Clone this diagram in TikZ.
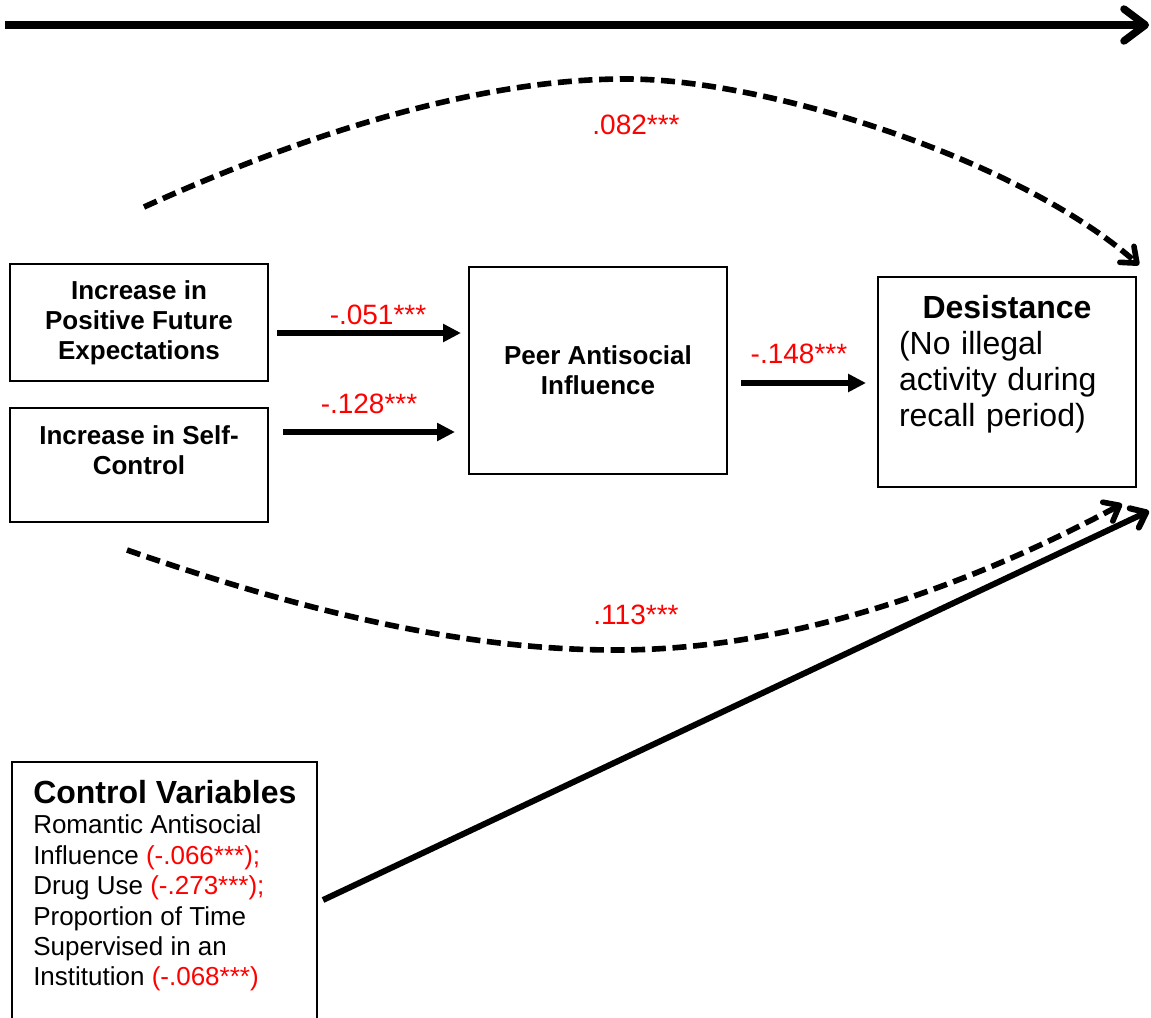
\documentclass[tikz,border=0pt]{standalone}
\usepackage{fontspec}
\setmainfont{Liberation Sans}
\usetikzlibrary{arrows.meta}
\tikzset{%
    box/.style={inner sep=0pt,outer sep=0pt,shape=rectangle,draw,line width=0.9pt,anchor=north west},
    boxtext/.style={font=\fontsize{19.5pt}{22.5pt}\selectfont\bfseries,align=center},
    path arrow/.style={-{Triangle[length=13.5pt,width=13pt]},line width=4.8pt},
    effect/.style={-{Straight Barb[length=10pt,width=16pt,round]},line width=4.2pt,dash pattern=on 10.5pt off 5pt},
    coef/.style={text=red,font=\fontsize{21pt}{24pt}\selectfont,inner sep=0pt},
}

\begin{document}
\begin{tikzpicture}[x=0.75pt,y=-0.75pt]
      \path[use as bounding box] (0,0) rectangle (1151,1017);
      \clip (0,0) rectangle (1151,1017);

      \node[box,boxtext,minimum width=193.5pt,minimum height=87.75pt] (pfe) at (10,264) {Increase in\\Positive Future\\Expectations};
      \node[box,boxtext,minimum width=193.5pt,minimum height=85.5pt] (sc) at (10,408) {Increase in Self-\\Control\\~};
      \node[box,boxtext,minimum width=193.5pt,minimum height=155.25pt] (peer) at (469,267) {Peer Antisocial\\Influence};
      \node[box,minimum width=193.5pt,minimum height=157.5pt] (desist) at (878,277) {};
      \node[anchor=north,text width=162pt,align=left,inner sep=0pt,font=\fontsize{24pt}{27pt}\selectfont] (desisttxt) at (1007,295)
        {\makebox[162pt]{\bfseries Desistance}\\(No illegal\\activity during\\recall period)};
      \node[box,minimum width=228.75pt,minimum height=202.5pt] (ctrl) at (12,762) {};
      \node[anchor=north west,align=left,inner sep=0pt,font=\fontsize{19.5pt}{22.8pt}\selectfont] (ctrltxt) at (33,780)
        {{\fontsize{24pt}{27pt}\selectfont\bfseries Control Variables}\\Romantic Antisocial\\Influence \textcolor{red}{(-.066***);}\\Drug Use \textcolor{red}{(-.273***);}\\Proportion of Time\\Supervised in an\\Institution \textcolor{red}{(-.068***)}};

      \coordinate (t1) at (5,25);
      \coordinate (t2) at (1149,25);
      \draw[line width=5.6pt,-{Straight Barb[length=16pt,width=24pt,round]}] (t1) -- (t2);

      \coordinate (u1) at (144,207);
      \coordinate (u2) at (629,79);
      \coordinate (u3) at (1139,265);
      \draw[effect] (u1) .. controls (340,118) and (505,78) .. (u2) .. controls (770,80) and (1020,160) .. (u3);
      \node[coef] (b1) at (636,125) {.082***};

      \coordinate (v1) at (127,550);
      \coordinate (v2) at (616,650);
      \coordinate (v3) at (1122,504);
      \draw[effect] (v1) .. controls (300,610) and (460,650) .. (v2) .. controls (800,650) and (980,580) .. (v3);
      \node[coef] (b2) at (636,615) {.113***};

      \draw[path arrow] ([shift={(9,10.5)}]pfe.east) -- ([shift={(-8,-37.5)}]peer.west)
        node[coef,midway,above=3.75pt,xshift=6.75pt] (b3) {-.051***};
      \draw[path arrow] ([shift={(15,-33)}]sc.east) -- ([shift={(-14,61.5)}]peer.west)
        node[coef,midway,above=11.25pt] (b4) {-.128***};
      \draw[path arrow] ([shift={(14,12.5)}]peer.east) -- ([shift={(-12,1)}]desist.west)
        node[coef,midway,above=12pt,xshift=-3.4pt] (b5) {-.148***};

      \coordinate (w2) at (1149,511);
      \draw[line width=4.5pt,-{Straight Barb[length=10pt,width=16pt,round]}] ([shift={(6,3)}]ctrl.east) -- (w2);
\end{tikzpicture}
\end{document}
